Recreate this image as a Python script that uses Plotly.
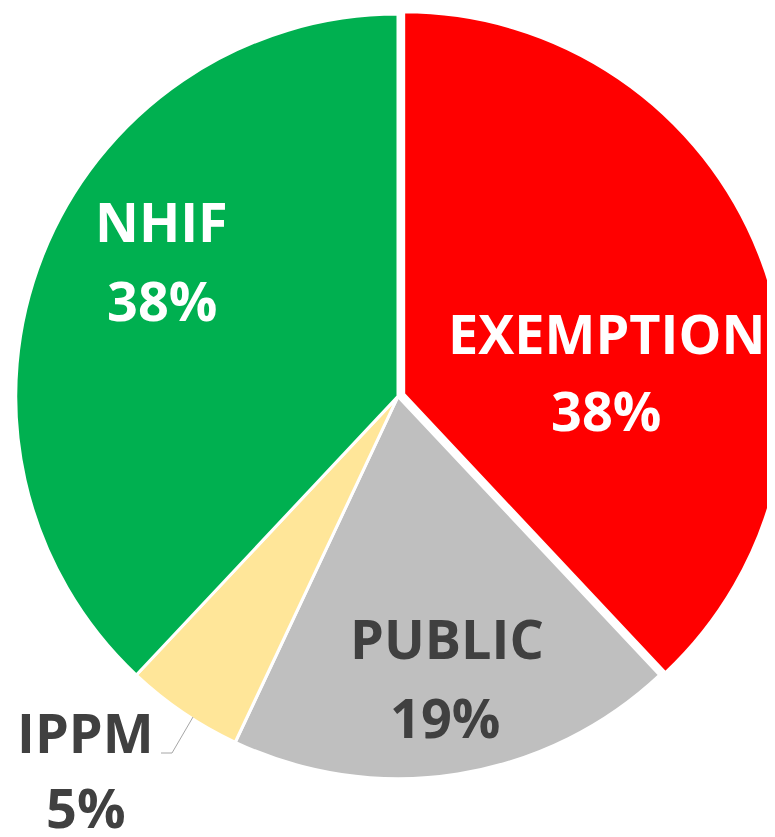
import plotly.graph_objects as go

labels = ["EXEMPTION", "PUBLIC", "IPPM", "NHIF"]
values = [38, 19, 5, 38]
colors = ["#FF0000", "#BFBFBF", "#FFE699", "#00B050"]
text_colors = ["white", "#404040", "#404040", "white"]
pulls = [0.016, 0, 0, 0]

W, H = 780, 837

# label spots in page pixels (name line, percent line)
name_pos = [(606, 333), (447, 638), (85, 732), (161, 221)]
pct_pos = [(606, 410), (445, 717), (86, 807), (162, 300)]


def px(x, y):
    # page has an 8px body margin
    return (x - 8) / W, 1 - (y - 8) / H


fig = go.Figure(
    go.Pie(
        labels=labels,
        values=values,
        sort=False,
        direction="clockwise",
        rotation=0,
        pull=pulls,
        marker=dict(colors=colors, line=dict(color="white", width=3)),
        textinfo="none",
        domain=dict(x=[0, 1], y=[0.072, 1]),
        hoverinfo="skip",
    )
)

total = sum(values)
for lab, val, col, npos, ppos in zip(labels, values, text_colors, name_pos, pct_pos):
    for txt, pos in ((lab, npos), (f"{val / total * 100:.0f}%", ppos)):
        x, y = px(*pos)
        fig.add_annotation(
            text=txt,
            x=x,
            y=y,
            xref="paper",
            yref="paper",
            xanchor="center",
            yanchor="middle",
            showarrow=False,
            font=dict(family="Open Sans", size=54, color=col, weight="bold"),
        )

# leader line for the small IPPM slice
p = [px(161, 753), px(172, 753), px(193, 717)]
fig.add_shape(
    type="path",
    xref="paper",
    yref="paper",
    path=f"M {p[0][0]},{p[0][1]} L {p[1][0]},{p[1][1]} L {p[2][0]},{p[2][1]}",
    line=dict(color="#A6A6A6", width=1),
)

fig.update_layout(
    width=W,
    height=H,
    margin=dict(l=0, r=0, t=0, b=0),
    paper_bgcolor="white",
    showlegend=False,
)

fig.write_html("out.html")
